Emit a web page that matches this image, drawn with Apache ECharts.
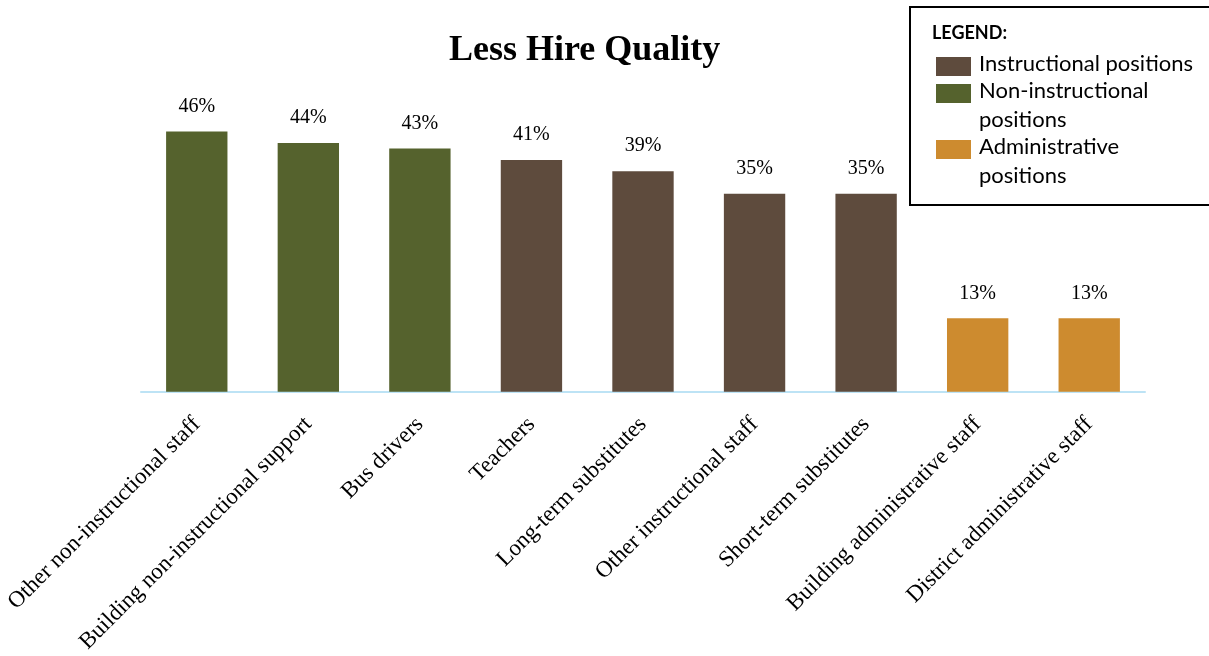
<!DOCTYPE html>
<html>
<head>
<meta charset="utf-8">
<style>
  html, body { margin: 0; padding: 0; background: #fff; }
  #chart { width: 1209px; height: 656px; }
</style>
<script src="https://cdn.jsdelivr.net/npm/echarts@6/dist/echarts.min.js"></script>
</head>
<body>
<div id="chart"></div>
<script>
// Share of respondents reporting lower hire quality, by position
const categories = [
  'Other non-instructional staff',
  'Building non-instructional support',
  'Bus drivers',
  'Teachers',
  'Long-term substitutes',
  'Other instructional staff',
  'Short-term substitutes',
  'Building administrative staff',
  'District administrative staff'
];
const values = [46, 44, 43, 41, 39, 35, 35, 13, 13];
const groups = ['non', 'non', 'non', 'inst', 'inst', 'inst', 'inst', 'admin', 'admin'];

const groupColors = { inst: '#5E4B3D', non: '#55622D', admin: '#CD8B2F' };
const legendItems = [
  { key: 'inst', lines: ['Instructional positions'] },
  { key: 'non', lines: ['Non-instructional', 'positions'] },
  { key: 'admin', lines: ['Administrative', 'positions'] }
];

const serif = '"Liberation Serif", "DejaVu Serif", serif';
const sans = 'Lato, "Liberation Sans", sans-serif';

// Legend box drawn as graphic elements so each swatch sits beside the first line of its label
const legendGraphic = [
  {
    type: 'rect',
    shape: { x: 910, y: 7, width: 320, height: 198 },
    style: { fill: '#fff', stroke: '#000', lineWidth: 2 },
    z: 10
  },
  {
    type: 'text',
    x: 932, y: 33,
    style: { text: 'LEGEND:', font: 'bold 18px ' + sans, fill: '#000', verticalAlign: 'middle' },
    z: 11
  }
];
const rowTops = [57, 84, 140];
legendItems.forEach((item, i) => {
  const top = rowTops[i];
  legendGraphic.push({
    type: 'rect',
    shape: { x: 936, y: top, width: 35, height: 19 },
    style: { fill: groupColors[item.key] },
    z: 11
  });
  item.lines.forEach((line, j) => {
    legendGraphic.push({
      type: 'text',
      x: 979, y: top + 7 + j * 29,
      style: { text: line, font: '22px ' + sans, fill: '#000', verticalAlign: 'middle' },
      z: 11
    });
  });
});

const chart = echarts.init(document.getElementById('chart'));
chart.setOption({
  animation: false,
  backgroundColor: '#fff',
  title: {
    text: 'Less Hire Quality',
    left: 444,
    top: 28,
    textStyle: { fontFamily: serif, fontWeight: 'bold', fontSize: 36, color: '#000' }
  },
  grid: { left: 141, right: 64, top: 109, bottom: 262, containLabel: false },
  xAxis: {
    type: 'category',
    data: categories,
    axisLine: { show: true, lineStyle: { color: '#BDE3F5', width: 2 } },
    axisTick: { show: false },
    axisLabel: {
      interval: 0,
      rotate: 45,
      margin: 29,
      fontFamily: serif,
      fontSize: 23,
      color: '#000'
    }
  },
  yAxis: {
    type: 'value',
    min: 0,
    max: 50,
    show: false,
    splitLine: { show: false }
  },
  series: [{
    type: 'bar',
    barWidth: '55%',
    data: values.map((v, i) => ({ value: v, itemStyle: { color: groupColors[groups[i]] } })),
    label: {
      show: true,
      position: 'top',
      distance: 15,
      formatter: p => p.value + '%',
      fontFamily: serif,
      fontSize: 20,
      color: '#000'
    }
  }],
  graphic: legendGraphic
});
</script>
</body>
</html>
